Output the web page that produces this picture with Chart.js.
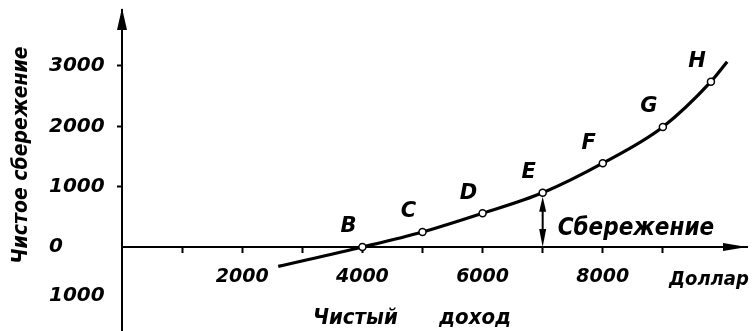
<!DOCTYPE html>
<html><head><meta charset="utf-8">
<script src="https://cdn.jsdelivr.net/npm/chart.js@4"></script>
<style>html,body{margin:0;padding:0;background:#fff}#wrap{width:752px;height:331px}</style>
</head><body><div id="wrap"><canvas id="c" width="752" height="331"></canvas></div>
<script>
// ---- data ----
const income = [2600, 4000, 5000, 6000, 7000, 8000, 9000, 9800, 10070];
const saving = [-320, 0, 250, 560, 900, 1390, 1990, 2740, 3070];
const pointNames = ['', 'B', 'C', 'D', 'E', 'F', 'G', 'H', ''];
const xTickValues = [1000, 2000, 3000, 4000, 5000, 6000, 7000, 8000, 9000];
const xTickLabels = ['', '2000', '', '4000', '', '6000', '', '8000', ''];
const yTickValues = [-1000, 0, 1000, 2000, 3000];
const yTickLabels = [['1000', ''], '0', '1000', '2000', '3000'];
const xUnit = 'Доллар';
const xTitle = 'Чистый      доход';
const yTitle = 'Чистое сбережение';
const arrowLabel = 'Сбережение';
const arrowPoint = 'E';

const WIDE = "'DejaVu Sans', sans-serif";
const COND = "'DejaVu Sans Condensed', 'DejaVu Sans', sans-serif";
const fontStr = (s, f) => 'italic bold ' + s + 'px ' + f;

function zeroPad(s) { s.paddingLeft = 0; s.paddingRight = 0; s.paddingTop = 0; s.paddingBottom = 0; }

function head(ctx, tx, ty, dx, dy, len, half) {
  const bx = tx - dx * len, by = ty - dy * len;
  const px = -dy, py = dx;
  ctx.beginPath();
  ctx.moveTo(tx, ty);
  ctx.lineTo(bx + px * half, by + py * half);
  ctx.lineTo(bx - px * half, by - py * half);
  ctx.closePath();
  ctx.fill();
}

const decor = {
  id: 'decor',
  afterDraw(chart) {
    const ctx = chart.ctx;
    const xs = chart.scales.x, ys = chart.scales.y;
    const ca = chart.chartArea;
    const meta = chart.getDatasetMeta(0);
    const y0 = ys.getPixelForValue(0);
    const x0 = xs.getPixelForValue(0);
    ctx.save();
    ctx.fillStyle = '#000';
    ctx.strokeStyle = '#000';
    // axis arrowheads
    head(ctx, x0, ca.top - 2, 0, -1, 22, 5);
    head(ctx, ca.right, y0, 1, 0, 24, 4);
    // point letters
    ctx.font = fontStr(21, WIDE);
    ctx.textAlign = 'center';
    ctx.textBaseline = 'middle';
    pointNames.forEach((n, i) => {
      if (!n) return;
      const p = meta.data[i];
      ctx.fillText(n, p.x - 14, p.y - 20);
    });
    // double arrow under E
    const iE = pointNames.indexOf(arrowPoint);
    const pe = meta.data[iE];
    const top = pe.y + 4;
    ctx.lineWidth = 2;
    ctx.beginPath();
    ctx.moveTo(pe.x, top + 8);
    ctx.lineTo(pe.x, y0 - 8);
    ctx.stroke();
    head(ctx, pe.x, top, 0, -1, 15, 3.5);
    head(ctx, pe.x, y0, 0, 1, 18, 3.5);
    // texts
    ctx.textAlign = 'left';
    ctx.font = fontStr(24, COND);
    ctx.fillText(arrowLabel, pe.x + 15, y0 - 18);
    ctx.font = fontStr(20, COND);
    ctx.fillText(xUnit, 669, y0 + 33);
    ctx.textAlign = 'center';
    ctx.font = fontStr(22, COND);
    ctx.fillText(xTitle, 412, 318);
    ctx.font = fontStr(21, COND);
    ctx.translate(22, 155);
    ctx.rotate(-Math.PI / 2);
    ctx.fillText(yTitle, 0, 0);
    ctx.restore();
  }
};

new Chart(document.getElementById('c'), {
  type: 'line',
  data: {
    datasets: [{
      data: income.map((x, i) => ({x: x, y: saving[i]})),
      borderColor: '#000',
      borderWidth: 3.2,
      cubicInterpolationMode: 'monotone',
      fill: false,
      pointRadius: (c) => pointNames[c.dataIndex] ? 3.5 : 0,
      pointBackgroundColor: '#fff',
      pointBorderColor: '#000',
      pointBorderWidth: 1.5
    }]
  },
  options: {
    responsive: false,
    animation: false,
    layout: {padding: {left: 49, right: 5, top: 10, bottom: 0}},
    plugins: {legend: {display: false}, tooltip: {enabled: false}},
    scales: {
      x: {
        type: 'linear', position: {y: 0}, min: 0, max: 10400,
        afterBuildTicks: (s) => { s.ticks = xTickValues.map(v => ({value: v})); },
        afterFit: zeroPad,
        ticks: {
          autoSkip: false, maxRotation: 0, minRotation: 0, padding: 14, color: '#000',
          font: {family: WIDE, size: 19, style: 'italic', weight: 'bold'},
          callback: (v) => xTickLabels[xTickValues.indexOf(v)]
        },
        grid: {drawOnChartArea: false, drawTicks: true, tickLength: 5, tickWidth: 2, tickColor: '#000'},
        border: {display: true, color: '#000', width: 2}
      },
      y: {
        type: 'linear', position: 'left', min: -1392, max: 3928,
        afterBuildTicks: (s) => { s.ticks = yTickValues.map(v => ({value: v})); },
        afterFit: (s) => { s.width = 73; zeroPad(s); },
        ticks: {
          autoSkip: false, crossAlign: 'far', color: '#000',
          font: {family: WIDE, size: 20, style: 'italic', weight: 'bold'},
          callback: (v) => yTickLabels[yTickValues.indexOf(v)]
        },
        grid: {
          drawOnChartArea: false, drawTicks: true, tickLength: 5, tickWidth: 2,
          tickColor: (c) => (c.tick && c.tick.value > 0) ? '#000' : 'rgba(0,0,0,0)'
        },
        border: {display: true, color: '#000', width: 2}
      }
    }
  },
  plugins: [decor]
});
</script>
</body></html>
